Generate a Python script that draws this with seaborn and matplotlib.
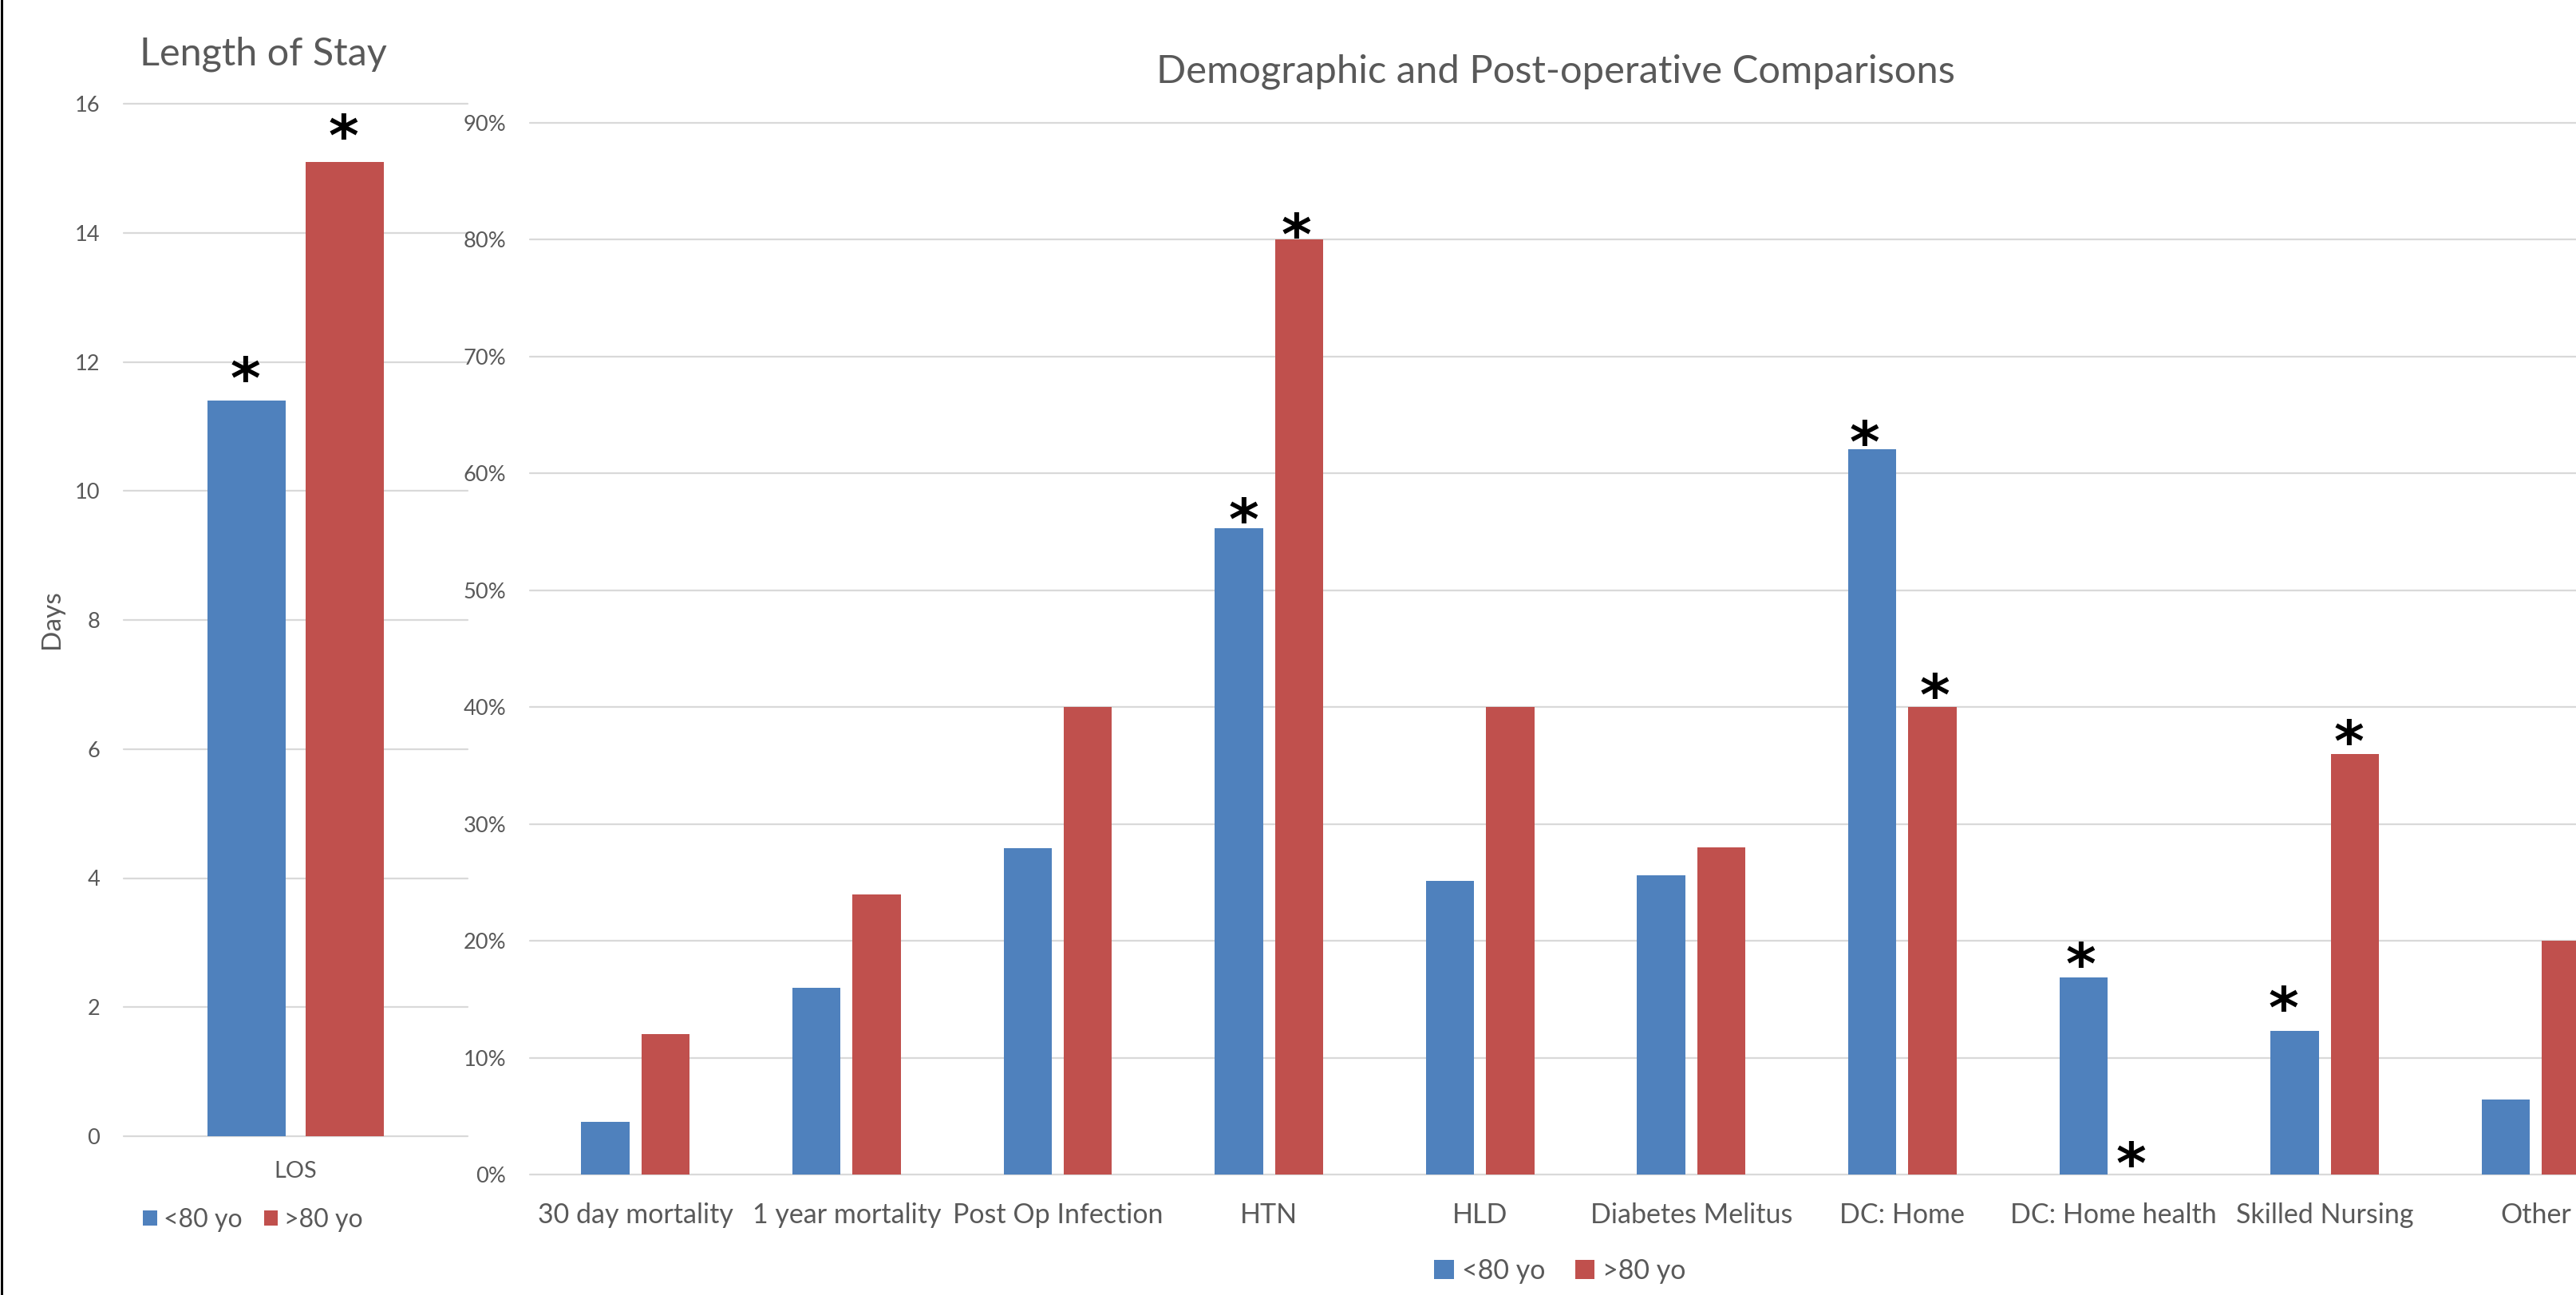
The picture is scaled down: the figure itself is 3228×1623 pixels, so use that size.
import matplotlib
matplotlib.use("Agg")
import matplotlib.pyplot as plt
import seaborn as sns
import pandas as pd
from matplotlib.patches import Patch
from matplotlib.lines import Line2D
from matplotlib.ticker import PercentFormatter
from matplotlib.textpath import TextPath
from matplotlib.font_manager import FontProperties

# ---------------- data ----------------
groups = ["<80 yo", ">80 yo"]

los_categories = ["LOS"]
los_young = [11.4]
los_old = [15.1]
los_star_young = [True]
los_star_old = [True]

categories = ["30 day mortality", "1 year mortality", "Post Op Infection", "HTN", "HLD",
              "Diabetes Melitus", "DC: Home", "DC: Home health", "Skilled Nursing", "Other"]
pct_young = [0.045, 0.16, 0.279, 0.553, 0.251, 0.256, 0.621, 0.169, 0.123, 0.064]
pct_old = [0.12, 0.24, 0.40, 0.80, 0.40, 0.28, 0.40, 0.0, 0.36, 0.20]
star_young = [False, False, False, True, False, False, True, True, True, False]
star_old = [False, False, False, True, False, False, True, True, True, False]

los_ticks = list(range(0, 17, 2))
pct_ticks = [i / 10 for i in range(0, 10)]

# ---------------- style ----------------
BLUE = "#4F81BD"
RED = "#C0504D"
GRAY = "#595959"
GRID = "#D9D9D9"
W, H = 3228, 1623
DPI = 100

sns.set_theme(style="white")
plt.rcParams["font.family"] = ["Lato", "DejaVu Sans"]

fig = plt.figure(figsize=(W / DPI, H / DPI), dpi=DPI)
fig.patch.set_facecolor("white")


def fy(py):
    return 1 - py / H


ax1 = fig.add_axes([155 / W, 1 - 1424 / H, 431 / W, (1424 - 130) / H])
ax2 = fig.add_axes([664 / W, 1 - 1472 / H, 2646 / W, (1472 - 154) / H])

los_df = pd.DataFrame({
    "measure": los_categories * 2,
    "group": [groups[0]] * len(los_categories) + [groups[1]] * len(los_categories),
    "value": los_young + los_old,
})
pct_df = pd.DataFrame({
    "measure": categories * 2,
    "group": [groups[0]] * len(categories) + [groups[1]] * len(categories),
    "value": pct_young + pct_old,
})

for ax, df in ((ax1, los_df), (ax2, pct_df)):
    sns.barplot(data=df, x="measure", y="value", hue="group", hue_order=groups,
                palette=[BLUE, RED], width=0.57, gap=0.2, saturation=1,
                linewidth=0, legend=False, ax=ax, errorbar=None)
    ax.set_xlabel("")
    ax.set_ylabel("")
    for s in ax.spines.values():
        s.set_visible(False)
    ax.yaxis.grid(True, color=GRID, lw=1.6)
    ax.xaxis.grid(False)
    ax.set_axisbelow(True)
    for gl in ax.get_ygridlines():
        gl.set_clip_on(False)
    ax.set_facecolor("none")

ax1.set_ylim(0, 16)
ax1.set_yticks(los_ticks)
ax1.set_xlim(-0.5, 0.5)
ax1.tick_params(axis="y", length=0, pad=21.5, labelsize=19.6, labelcolor=GRAY)
ax1.tick_params(axis="x", length=0, pad=22, labelsize=20.8, labelcolor=GRAY)

ax2.set_ylim(0, 0.9)
ax2.set_yticks(pct_ticks)
ax2.yaxis.set_major_formatter(PercentFormatter(1.0, decimals=0))
ax2.set_xlim(-0.5, len(categories) - 0.5)
ax2.tick_params(axis="y", length=0, pad=21.5, labelsize=19.6, labelcolor=GRAY)
ax2.tick_params(axis="x", length=0, pad=25, labelsize=24.5, labelcolor=GRAY)

# ---------------- significance asterisks ----------------
STAR_PT = 52
star_fp = FontProperties(family="DejaVu Sans", weight="bold")
_tp = TextPath((0, 0), "*", size=STAR_PT * DPI / 72, prop=star_fp)
_ext = _tp.get_extents()
star_bottom = _ext.y0

# (dx px, gap px) per starred bar: (category index, group index)
los_star_off = {(0, 0): (-2, 23), (0, 1): (-1, 28)}
pct_star_off = {(3, 0): (6, 6), (3, 1): (-3, 2), (6, 0): (-10, 4), (6, 1): (3, 10),
                (7, 0): (-3, 12), (7, 1): (-16, 9), (8, 0): (-14, 24), (8, 1): (-7, 11)}


def add_stars(ax, flags_by_group, offsets):
    for g, cont in enumerate(ax.containers):
        flags = flags_by_group[g]
        for i, bar in enumerate(cont.patches):
            if not flags[i]:
                continue
            dx, gap = offsets.get((i, g), (0, 5))
            cx = bar.get_x() + bar.get_width() / 2
            ax.annotate("*", xy=(cx, bar.get_height()), xytext=(dx, gap - star_bottom),
                        textcoords="offset pixels", ha="center", va="baseline",
                        fontsize=STAR_PT, family="DejaVu Sans",
                        fontweight="bold", color="black", annotation_clip=False)


add_stars(ax1, [los_star_young, los_star_old], los_star_off)
add_stars(ax2, [star_young, star_old], pct_star_off)

# ---------------- titles, labels, legends ----------------
fig.text(329.5 / W, fy(82), "Length of Stay", ha="center", va="baseline",
         fontsize=35, color=GRAY)
fig.text(1949.5 / W, fy(103), "Demographic and Post-operative Comparisons",
         ha="center", va="baseline", fontsize=35.2, color=GRAY)
fig.text(65 / W, fy(776), "Days", rotation=90, ha="center", va="center",
         fontsize=24, color=GRAY)

handles = [Patch(facecolor=BLUE, edgecolor="none"), Patch(facecolor=RED, edgecolor="none")]
fig.legend(handles, groups, loc="center", bbox_to_anchor=(317 / W, fy(1529)), ncol=2,
           frameon=False, fontsize=23, handlelength=0.56, handleheight=0.56,
           handletextpad=0.25, columnspacing=0.85, borderpad=0, borderaxespad=0,
           labelcolor=GRAY)
fig.legend(handles, groups, loc="center", bbox_to_anchor=(1955 / W, fy(1593)), ncol=2,
           frameon=False, fontsize=24.5, handlelength=0.72, handleheight=0.72,
           handletextpad=0.3, columnspacing=1.1, borderpad=0, borderaxespad=0,
           labelcolor=GRAY)

fig.add_artist(Line2D([1.5 / W, 1.5 / W], [0, 1], transform=fig.transFigure,
                      color="black", lw=3 * 72 / DPI))

fig.savefig("out.png", dpi=DPI, facecolor="white")
